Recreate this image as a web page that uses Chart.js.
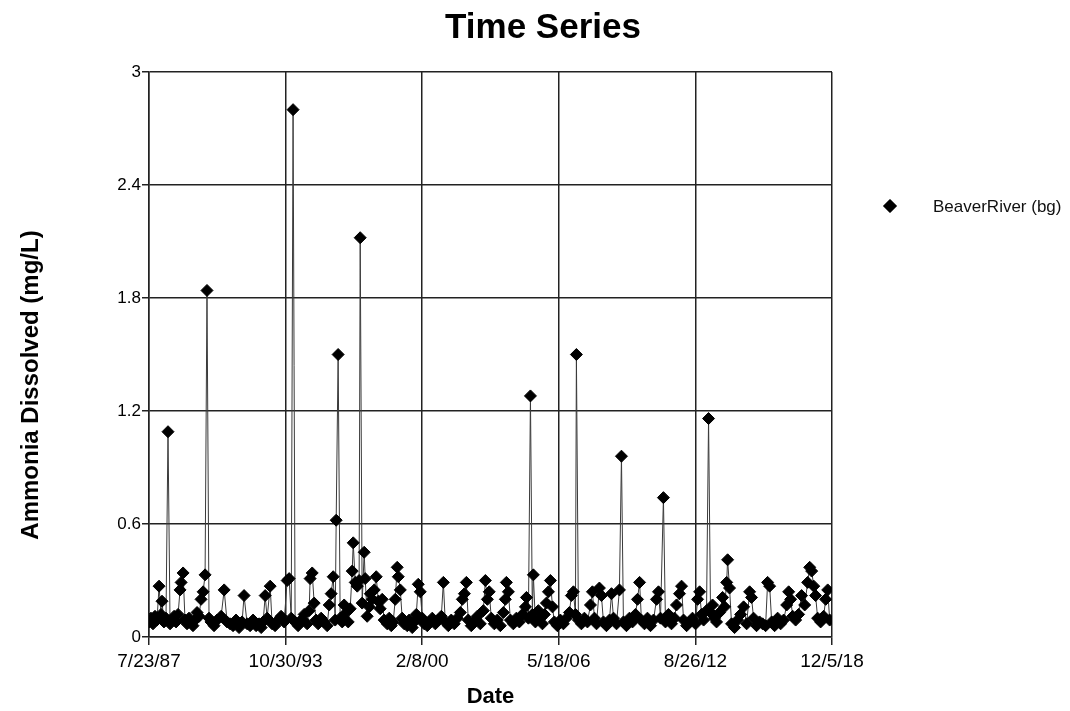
<!DOCTYPE html>
<html>
<head>
<meta charset="utf-8">
<script src="https://cdn.jsdelivr.net/npm/chart.js@4.4.0/dist/chart.umd.min.js"></script>
<style>
  html, body { margin: 0; padding: 0; background: #fff; }
</style>
</head>
<body>
<canvas id="myChart" width="1070" height="711"></canvas>
<script>
var chartTitle = 'Time Series';
var yAxisTitle = 'Ammonia Dissolved (mg/L)';
var xAxisTitle = 'Date';
var seriesName = 'BeaverRiver (bg)';

// x tick positions (dates) and y tick values
var tickDates = ['1987-07-23', '1993-10-30', '2000-02-08', '2006-05-18', '2012-08-26', '2018-12-05'];
var yTicks = [0, 0.6, 1.2, 1.8, 2.4, 3];

// sample dates and dissolved ammonia (mg/L)
var sampleDates = [
  '1987-07-23','1987-08-25','1987-09-28','1987-11-01','1987-12-04','1988-01-08','1988-02-10','1988-02-26','1988-03-30','1988-05-03',
  '1988-06-06','1988-07-10','1988-08-13','1988-09-16','1988-10-19','1988-11-22','1988-12-25','1989-01-12','1989-02-14','1989-03-18',
  '1989-04-21','1989-05-24','1989-06-27','1989-07-30','1989-09-03','1989-10-06','1989-11-09','1989-12-12','1990-01-16','1990-02-18',
  '1990-03-22','1990-04-25','1990-05-28','1990-07-18','1990-09-08','1990-11-14','1991-01-04','1991-02-22','1991-04-13','1991-06-02',
  '1991-07-22','1991-09-11','1991-11-01','1991-12-04','1992-01-24','1992-03-14','1992-05-03','1992-06-23','1992-08-13','1992-09-16',
  '1992-10-19','1992-11-22','1992-12-25','1993-02-14','1993-03-18','1993-05-07','1993-06-27','1993-08-16','1993-10-06','1993-11-26',
  '1993-12-29','1994-02-02','1994-03-05','1994-04-08','1994-05-28','1994-07-18','1994-09-07','1994-10-27','1994-11-30','1994-12-16',
  '1995-01-20','1995-02-22','1995-03-26','1995-04-29','1995-06-19','1995-08-08','1995-09-28','1995-11-01','1995-12-04','1996-01-07',
  '1996-02-10','1996-02-26','1996-03-30','1996-05-03','1996-06-06','1996-07-09','1996-08-12','1996-09-15','1996-10-18','1996-11-21',
  '1996-12-08','1997-01-11','1997-02-14','1997-03-17','1997-04-04','1997-05-07','1997-06-10','1997-06-27','1997-07-30','1997-09-03',
  '1997-09-20','1997-10-23','1997-11-26','1997-12-29','1998-02-02','1998-03-05','1998-04-08','1998-05-11','1998-07-01','1998-08-04',
  '1998-09-07','1998-10-10','1998-11-13','1998-12-16','1999-01-03','1999-02-06','1999-03-09','1999-04-12','1999-06-02','1999-07-05',
  '1999-08-25','1999-09-28','1999-11-01','1999-12-04','2000-01-07','2000-02-10','2000-03-13','2000-05-03','2000-06-06','2000-07-26',
  '2000-09-15','2000-11-05','2000-12-25','2001-01-28','2001-03-01','2001-04-21','2001-06-10','2001-07-30','2001-09-19','2001-11-09',
  '2001-12-12','2002-01-16','2002-02-18','2002-03-22','2002-05-11','2002-07-01','2002-08-21','2002-10-10','2002-11-30','2003-01-03',
  '2003-02-06','2003-03-09','2003-04-12','2003-06-02','2003-07-22','2003-09-11','2003-11-01','2003-12-04','2003-12-21','2004-01-24',
  '2004-02-27','2004-04-16','2004-06-06','2004-07-26','2004-09-15','2004-11-05','2004-11-22','2004-12-25','2005-01-28','2005-03-01',
  '2005-03-18','2005-04-21','2005-06-10','2005-07-14','2005-08-17','2005-09-20','2005-10-23','2005-11-26','2005-12-29','2006-02-02',
  '2006-03-05','2006-04-25','2006-06-14','2006-08-04','2006-09-24','2006-11-13','2006-12-16','2007-01-19','2007-02-22','2007-03-10',
  '2007-04-13','2007-06-02','2007-07-22','2007-09-11','2007-11-01','2007-12-04','2008-01-07','2008-02-10','2008-03-30','2008-05-03',
  '2008-06-06','2008-07-26','2008-09-15','2008-10-19','2008-11-22','2009-01-11','2009-03-01','2009-04-04','2009-05-07','2009-06-27',
  '2009-08-16','2009-10-06','2009-11-26','2009-12-29','2010-02-02','2010-03-05','2010-04-25','2010-06-14','2010-08-04','2010-09-24',
  '2010-11-13','2010-12-16','2011-01-19','2011-03-09','2011-04-12','2011-06-02','2011-07-22','2011-09-11','2011-10-14','2011-12-04',
  '2012-01-07','2012-02-10','2012-04-01','2012-05-20','2012-07-09','2012-08-29','2012-10-02','2012-11-05','2012-12-08','2013-01-11',
  '2013-03-01','2013-04-04','2013-05-07','2013-06-10','2013-07-13','2013-08-16','2013-10-06','2013-11-26','2013-12-29','2014-02-02',
  '2014-02-18','2014-03-22','2014-04-25','2014-06-14','2014-08-04','2014-09-24','2014-11-13','2015-01-03','2015-02-22','2015-03-26',
  '2015-04-29','2015-06-18','2015-08-08','2015-09-28','2015-11-17','2015-12-21','2016-01-24','2016-02-27','2016-04-16','2016-06-06',
  '2016-07-26','2016-09-15','2016-11-05','2016-12-08','2017-01-11','2017-02-14','2017-04-04','2017-05-24','2017-07-13','2017-09-03',
  '2017-10-23','2017-11-26','2017-12-29','2018-02-02','2018-03-05','2018-04-08','2018-05-28','2018-07-18','2018-08-21','2018-09-24',
  '2018-10-27'
];
var ammonia = [
  0.08, 0.10, 0.07, 0.11, 0.09, 0.27, 0.12, 0.19, 0.08, 0.10,
  1.09, 0.07, 0.09, 0.11, 0.08, 0.12, 0.25, 0.29, 0.34, 0.09,
  0.07, 0.10, 0.08, 0.06, 0.09, 0.13, 0.11, 0.20, 0.24, 0.33,
  1.84, 0.10, 0.08, 0.06, 0.09, 0.11, 0.25, 0.08, 0.07, 0.06,
  0.09, 0.05, 0.08, 0.22, 0.07, 0.06, 0.09, 0.06, 0.07, 0.05,
  0.08, 0.22, 0.10, 0.27, 0.07, 0.06, 0.09, 0.11, 0.08, 0.30,
  0.31, 0.10, 2.80, 0.08, 0.06, 0.09, 0.12, 0.07, 0.14, 0.31,
  0.34, 0.18, 0.09, 0.07, 0.10, 0.08, 0.06, 0.17, 0.23, 0.32,
  0.09, 0.62, 1.50, 0.10, 0.08, 0.17, 0.13, 0.08, 0.15, 0.35,
  0.50, 0.29, 0.27, 0.30, 2.12, 0.18, 0.45, 0.31, 0.11, 0.16,
  0.23, 0.20, 0.25, 0.32, 0.19, 0.15, 0.20, 0.09, 0.07, 0.10,
  0.06, 0.08, 0.20, 0.37, 0.32, 0.25, 0.10, 0.07, 0.06, 0.09,
  0.05, 0.08, 0.12, 0.28, 0.24, 0.10, 0.07, 0.06, 0.08, 0.10,
  0.07, 0.09, 0.11, 0.29, 0.08, 0.06, 0.09, 0.07, 0.10, 0.13,
  0.20, 0.23, 0.29, 0.09, 0.06, 0.08, 0.11, 0.07, 0.14, 0.30,
  0.20, 0.24, 0.10, 0.07, 0.09, 0.06, 0.13, 0.20, 0.29, 0.24,
  0.09, 0.07, 0.10, 0.08, 0.12, 0.16, 0.21, 0.10, 1.28, 0.12,
  0.33, 0.08, 0.14, 0.10, 0.07, 0.12, 0.18, 0.24, 0.30, 0.16,
  0.08, 0.06, 0.09, 0.07, 0.10, 0.13, 0.22, 0.24, 0.12, 1.50,
  0.09, 0.07, 0.10, 0.08, 0.17, 0.24, 0.10, 0.07, 0.26, 0.22,
  0.08, 0.06, 0.09, 0.23, 0.10, 0.07, 0.25, 0.96, 0.08, 0.06,
  0.10, 0.08, 0.12, 0.20, 0.29, 0.09, 0.07, 0.10, 0.06, 0.09,
  0.20, 0.24, 0.10, 0.74, 0.08, 0.12, 0.07, 0.10, 0.17, 0.23,
  0.27, 0.09, 0.06, 0.08, 0.10, 0.07, 0.20, 0.24, 0.12, 0.09,
  0.14, 1.16, 0.13, 0.17, 0.10, 0.08, 0.13, 0.21, 0.16, 0.29,
  0.41, 0.26, 0.07, 0.05, 0.09, 0.12, 0.16, 0.07, 0.24, 0.21,
  0.10, 0.06, 0.08, 0.07, 0.06, 0.29, 0.27, 0.08, 0.06, 0.10,
  0.07, 0.09, 0.17, 0.24, 0.20, 0.11, 0.09, 0.12, 0.22, 0.17,
  0.29, 0.37, 0.35, 0.27, 0.22, 0.10, 0.08, 0.11, 0.20, 0.25,
  0.09
];

var fontFamily = '"Liberation Sans", Arial, Helvetica, sans-serif';

function toDay(s) {
  return Date.parse(s) / 86400000;
}

function fmtDate(d) {
  var dt = new Date(Math.round(d) * 86400000);
  return (dt.getUTCMonth() + 1) + '/' + dt.getUTCDate() + '/' + String(dt.getUTCFullYear()).slice(2);
}

var points = sampleDates.map(function(s, i) {
  return { x: toDay(s), y: ammonia[i] };
});

// title, vertical axis title and legend are drawn here so they can sit where the original has them
var decorPlugin = {
  id: 'decor',
  afterDraw: function(chart) {
    var ctx = chart.ctx;
    ctx.save();
    ctx.fillStyle = '#000';
    ctx.textAlign = 'center';
    ctx.textBaseline = 'middle';
    ctx.font = 'bold 35px ' + fontFamily;
    ctx.fillText(chartTitle, 543, 28);

    ctx.translate(31, 385);
    ctx.rotate(-Math.PI / 2);
    ctx.font = 'bold 24px ' + fontFamily;
    ctx.fillText(yAxisTitle, 0, 0);
    ctx.restore();

    ctx.save();
    Chart.helpers.drawPoint(ctx, {
      pointStyle: 'rectRot', radius: 6.5, borderWidth: 1, rotation: 0
    }, 890, 206);
    ctx.fillStyle = '#000';
    ctx.strokeStyle = '#000';
    ctx.fill();
    ctx.fillStyle = '#111';
    ctx.textAlign = 'left';
    ctx.textBaseline = 'middle';
    ctx.font = '17px ' + fontFamily;
    ctx.fillText(seriesName, 933, 207);
    ctx.restore();
  }
};

var ctx = document.getElementById('myChart').getContext('2d');
var myChart = new Chart(ctx, {
  type: 'line',
  data: {
    datasets: [{
      label: seriesName,
      data: points,
      borderColor: '#3a3a3a',
      borderWidth: 1,
      pointStyle: 'rectRot',
      pointRadius: 6,
      pointBorderWidth: 1,
      pointBackgroundColor: '#000',
      pointBorderColor: '#000',
      tension: 0,
      fill: false
    }]
  },
  options: {
    responsive: false,
    animation: false,
    layout: {
      padding: { left: 0, right: 238, top: 72, bottom: 0 }
    },
    plugins: {
      legend: { display: false },
      title: { display: false },
      tooltip: { enabled: false }
    },
    scales: {
      x: {
        type: 'linear',
        min: toDay(tickDates[0]),
        max: toDay(tickDates[tickDates.length - 1]),
        afterBuildTicks: function(scale) {
          scale.ticks = tickDates.map(function(s) { return { value: toDay(s) }; });
        },
        afterFit: function(scale) { scale.height = 74; },
        ticks: {
          autoSkip: false,
          maxRotation: 0,
          padding: 5,
          color: '#000',
          font: { family: fontFamily, size: 19 },
          callback: function(v) { return fmtDate(v); }
        },
        grid: { color: '#222', lineWidth: 1.5, tickLength: 8 },
        border: { color: '#222', width: 1.5 },
        title: {
          display: true,
          text: xAxisTitle,
          color: '#000',
          font: { family: fontFamily, size: 22, weight: 'bold' },
          padding: { top: 0, bottom: 1 }
        }
      },
      y: {
        type: 'linear',
        min: 0,
        max: 3,
        afterBuildTicks: function(scale) {
          scale.ticks = yTicks.map(function(v) { return { value: v }; });
        },
        afterFit: function(scale) { scale.width = 149; },
        ticks: {
          padding: 1,
          color: '#000',
          font: { family: fontFamily, size: 17 },
          callback: function(v) { return String(v); }
        },
        grid: { color: '#222', lineWidth: 1.5, tickLength: 7 },
        border: { color: '#222', width: 1.5 }
      }
    }
  },
  plugins: [decorPlugin]
});
</script>
</body>
</html>
